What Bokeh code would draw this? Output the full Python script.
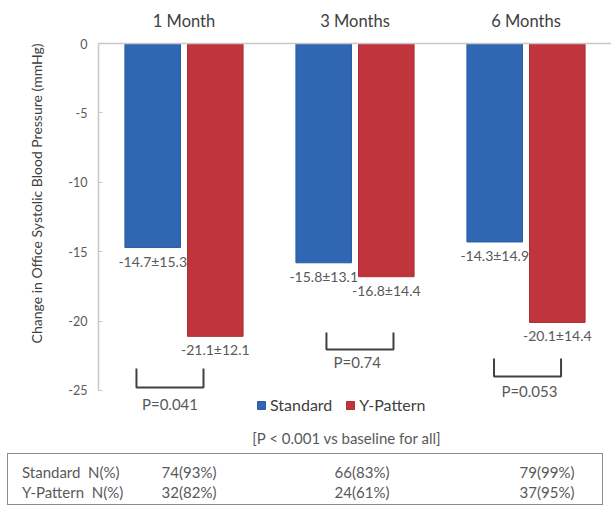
from bokeh.plotting import figure
from bokeh.models import (ColumnDataSource, Range1d, Span, Legend, LegendItem,
                          FixedTicker, Div, Title)
from bokeh.layouts import column
from bokeh.embed import file_html
from bokeh.resources import INLINE
from bokeh.core.properties import value

# ---- data ----
periods = ["1 Month", "3 Months", "6 Months"]
standard = [-14.7, -15.8, -14.3]
standard_sd = [15.3, 13.1, 14.9]
ypattern = [-21.1, -16.8, -20.1]
ypattern_sd = [12.1, 14.4, 14.4]
p_values = ["P=0.041", "P=0.74", "P=0.053"]
y_ticks = [0, -5, -10, -15, -20, -25]
y_label = "Change in Office Systolic Blood Pressure (mmHg)"
footnote = "[P < 0.001 vs baseline for all]"
row_labels = ["Standard\u00a0\u00a0N(%)", "Y-Pattern\u00a0\u00a0N(%)"]
standard_n = ["74(93%)", "66(83%)", "79(99%)"]
ypattern_n = ["32(82%)", "24(61%)", "37(95%)"]

# ---- layout constants ----
FONT = "Lato"
BLUE = "#2f67b2"
RED = "#c0353b"
GREY = "#595959"
DARK = "#404040"
dodge = 0.183
bar_w = 0.325
bracket_shift = [-0.082, 0.029, 0.009]
bracket_top = [-23.41, -20.82, -22.69]
bracket_bot = [-24.78, -22.05, -23.99]
p_shift = [-0.082, 0.013, 0.02]
p_label_y = [-25.94, -22.96, -25.07]
half_br = 0.196

idx = list(range(len(periods)))
src = ColumnDataSource(dict(
    xs=[i - dodge for i in idx],
    xy=[i + dodge for i in idx],
    std=standard,
    yp=ypattern,
    std_txt=[f"{v}\u00b1{s}" for v, s in zip(standard, standard_sd)],
    yp_txt=[f"{v}\u00b1{s}" for v, s in zip(ypattern, ypattern_sd)],
))

# ---- main chart ----
p = figure(width=611, height=452, output_backend="svg", toolbar_location=None,
           x_range=Range1d(-0.5, 2.5), y_range=Range1d(-29.467, 3.098),
           min_border_left=98, min_border_right=0, min_border_top=0,
           min_border_bottom=0, outline_line_color=None)
p.xaxis.visible = False
p.xgrid.visible = False
p.ygrid.visible = False

ax = p.yaxis[0]
ax.ticker = FixedTicker(ticks=y_ticks)
ax.major_label_overrides = {t: str(t) for t in y_ticks}
ax.bounds = (-25, 0)
ax.axis_line_color = "#c8c8c8"
ax.axis_line_width = 1.5
ax.major_tick_in = 4
ax.major_tick_out = 0
ax.major_tick_line_color = "#c8c8c8"
ax.minor_tick_line_color = None
ax.major_label_text_font = FONT
ax.major_label_text_font_size = "12.5px"
ax.major_label_text_color = GREY
ax.major_label_standoff = 11

# vertical axis title, its top end level with the 0 tick
p.add_layout(Title(text=y_label, align="right", offset=43, standoff=42,
                   text_font=FONT, text_font_size="14px", text_font_style="normal",
                   text_color=DARK), "left")

p.add_layout(Span(location=0, dimension="width", line_color="#c8c8c8", line_width=1.5))

rb = p.vbar(x="xs", top=0, bottom="std", width=bar_w, source=src,
            fill_color=BLUE, line_color="#2a5ea3", line_width=1)
rr = p.vbar(x="xy", top=0, bottom="yp", width=bar_w, source=src,
            fill_color=RED, line_color="#b02f35", line_width=1)

for col_x, col_y, col_t in (("xs", "std", "std_txt"), ("xy", "yp", "yp_txt")):
    p.text(x=col_x, y=col_y, text=col_t, source=src, text_align="center",
           text_baseline="top", y_offset=5, text_font=value(FONT),
           text_font_size="14px", text_color=GREY)

p.text(x=idx, y=[1.657] * 3, text=periods,
       text_align="center", text_baseline="middle", text_font=value(FONT),
       text_font_size="16.5px", text_color=DARK)

for i in idx:
    cx = i + bracket_shift[i]
    p.line([cx - half_br, cx - half_br, cx + half_br, cx + half_br],
           [bracket_top[i], bracket_bot[i], bracket_bot[i], bracket_top[i]],
           line_color=DARK, line_width=2)

p.text(x=[i + s for i, s in zip(idx, p_shift)], y=p_label_y, text=p_values,
       text_align="center", text_baseline="middle", text_font=value(FONT),
       text_font_size="15px", text_color=GREY)

p.text(x=[0.953], y=[-28.39], text=[footnote], text_align="center",
       text_baseline="middle", text_font=value(FONT), text_font_size="15px",
       text_color=GREY)

legend = Legend(items=[LegendItem(label="Standard", renderers=[rb]),
                       LegendItem(label="Y-Pattern", renderers=[rr])],
                orientation="horizontal", location=(158, 38),
                glyph_width=10, glyph_height=10, label_standoff=4, spacing=13,
                padding=0, margin=0, border_line_color=None,
                background_fill_alpha=0, label_text_font=FONT,
                label_text_font_size="16px", label_text_color=DARK)
p.add_layout(legend, "center")

# ---- N(%) table ----
val_x = [189, 362, 547]
rows_html = ""
for r, (lab, vals) in enumerate(zip(row_labels, [standard_n, ypattern_n])):
    top = 11 + 20 * r
    rows_html += (f'<span style="position:absolute;left:22px;top:{top}px;'
                  f'line-height:18px;white-space:pre">{lab}</span>')
    for cx, v in zip(val_x, vals):
        rows_html += (f'<span style="position:absolute;left:{cx - 40}px;top:{top}px;'
                      f'width:80px;text-align:center;line-height:18px">{v}</span>')
table_html = (
    '<div style="position:relative;width:611px;height:54px;'
    f'font-family:{FONT};font-size:15px;color:{GREY}">'
    '<div style="position:absolute;left:7px;top:1px;width:596px;height:52px;'
    'border:1.5px solid #8c8c8c;box-sizing:border-box"></div>'
    + rows_html + '</div>')
t = Div(text=table_html, width=611, height=54, margin=0)

layout = column(p, t, spacing=0)
open("out.html", "w").write(file_html(layout, INLINE))
